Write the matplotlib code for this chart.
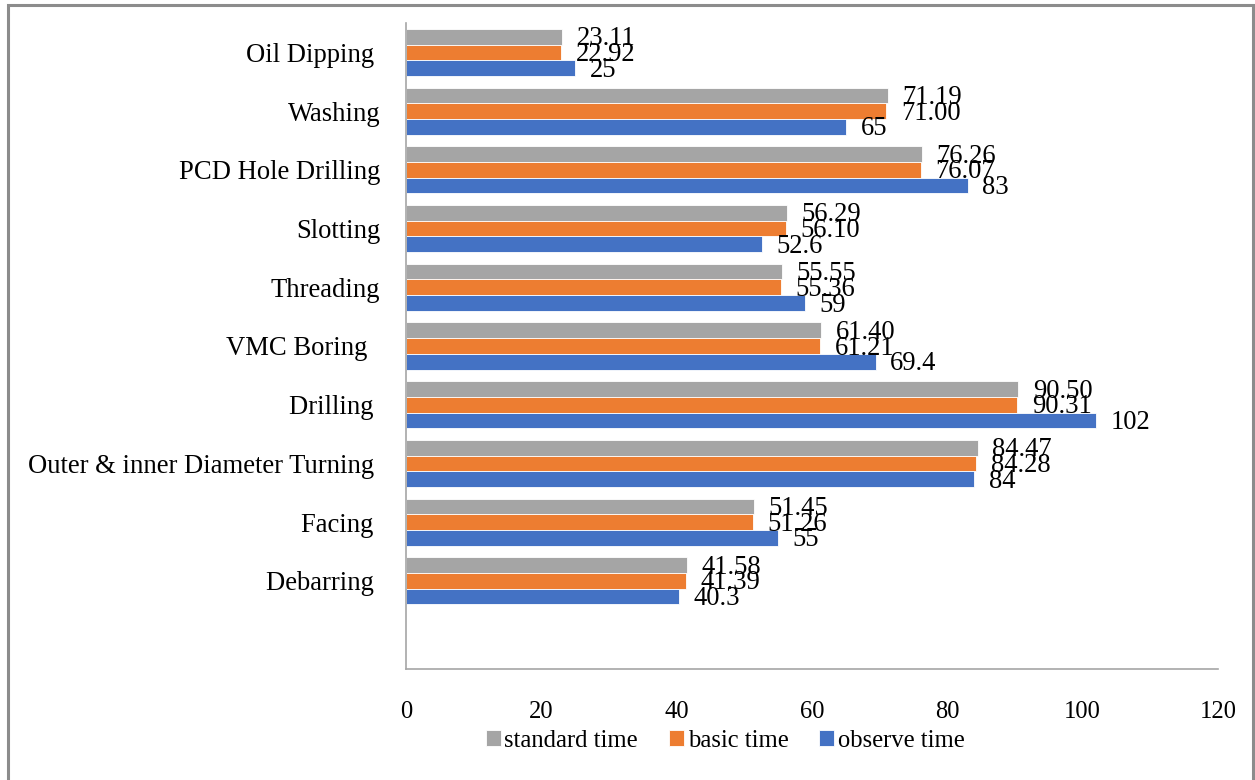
import matplotlib
matplotlib.use("Agg")
import matplotlib.pyplot as plt
from matplotlib.patches import Rectangle

# Process steps, listed bottom to top
operations = [
    "Debarring ",
    "Facing ",
    "Outer & inner Diameter Turning ",
    "Drilling ",
    "VMC Boring  ",
    "Threading",
    "Slotting",
    "PCD Hole Drilling",
    "Washing",
    "Oil Dipping ",
]
standard_time = [41.58, 51.45, 84.47, 90.50, 61.40, 55.55, 56.29, 76.26, 71.19, 23.11]
basic_time = [41.39, 51.26, 84.28, 90.31, 61.21, 55.36, 56.10, 76.07, 71.00, 22.92]
observe_time = [40.3, 55, 84, 102, 69.4, 59, 52.6, 83, 65, 25]
x_ticks = [0, 20, 40, 60, 80, 100, 120]

plt.rcParams["font.family"] = ["Liberation Serif", "DejaVu Serif"]
FS = 17.7      # axis ticks and legend
FS_BIG = 19.2  # category names and value labels

W, H = 1255, 780
fig = plt.figure(figsize=(W / 100, H / 100), dpi=100)
fig.patch.set_facecolor("white")

# outer chart frame
fig.add_artist(Rectangle((8 / W, -0.05), (1253 - 8) / W, 1.05 - 5 / H,
                         transform=fig.transFigure, fill=False,
                         edgecolor="#8c8c8c", linewidth=2.2))

ax = fig.add_axes([406 / W, 1 - 669 / H, (1218 - 406) / W, (669 - 23) / H])

h = 0.267
pos = list(range(len(operations)))
series = [
    (standard_time, "standard time", "#A5A5A5", h, lambda v: f"{v:.2f}"),
    (basic_time, "basic time", "#ED7D31", 0.0, lambda v: f"{v:.2f}"),
    (observe_time, "observe time", "#4472C4", -h, lambda v: f"{v:g}"),
]
for vals, name, color, off, fmt in series:
    ypos = [p + off for p in pos]
    ax.barh(ypos, vals, height=h, color=color, edgecolor="white",
            linewidth=0.6, label=name)
    for y, v in zip(ypos, vals):
        ax.annotate(fmt(v), xy=(v, y), xytext=(10.5, -1.5),
                    textcoords="offset points", ha="left", va="center",
                    fontsize=FS_BIG, color="black")

ax.set_xlim(0, 120)
ax.set_ylim(-1.5, len(operations) - 0.5)
ax.set_xticks(x_ticks)
ax.set_xticklabels([str(t) for t in x_ticks])
ax.set_yticks(pos)
ax.set_yticklabels(operations)
ax.tick_params(axis="x", length=0, pad=23, labelsize=FS)
ax.tick_params(axis="y", length=0, pad=18.5, labelsize=FS_BIG)

for s in ["top", "right"]:
    ax.spines[s].set_visible(False)
for s in ["left", "bottom"]:
    ax.spines[s].set_color("#A6A6A6")
    ax.spines[s].set_linewidth(1.2)

leg = fig.legend(loc="center", bbox_to_anchor=(725 / W, 1 - 741 / H),
                 ncol=3, frameon=False, fontsize=FS, handlelength=0.62,
                 handleheight=0.62, handletextpad=0.15, columnspacing=1.24,
                 borderpad=0)

fig.savefig("out.png", dpi=100)
